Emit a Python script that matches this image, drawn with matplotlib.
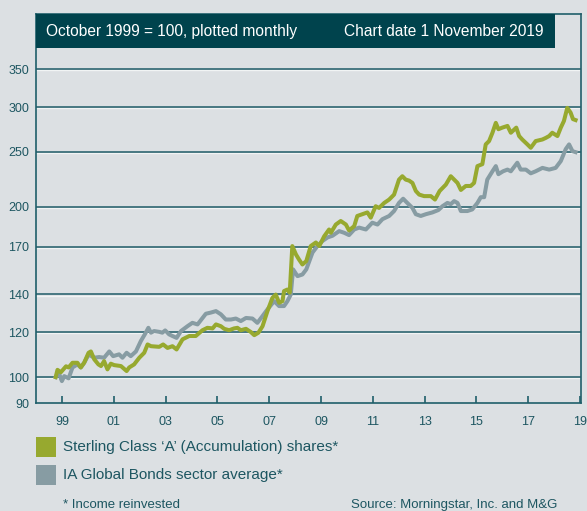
import numpy as np
import matplotlib.pyplot as plt
import matplotlib.transforms as mtransforms
from matplotlib.patches import Rectangle

plt.rcParams['font.family'] = ['Liberation Sans', 'DejaVu Sans']

# data (decimal year, index value)
g_year = [1999.75, 1999.82, 1999.95, 2000.15, 2000.25, 2000.40, 2000.59, 2000.72, 2000.85, 2001.02,
          2001.11, 2001.24, 2001.40, 2001.50, 2001.62, 2001.75, 2001.88, 2002.01, 2002.27, 2002.49,
          2002.59, 2002.78, 2002.98, 2003.17, 2003.30, 2003.43, 2003.75, 2003.90, 2004.07, 2004.26,
          2004.42, 2004.65, 2004.91, 2005.16, 2005.42, 2005.61, 2005.81, 2005.94, 2006.13, 2006.26,
          2006.45, 2006.64, 2006.77, 2006.90, 2007.10, 2007.29, 2007.42, 2007.58, 2007.74, 2007.93,
          2008.12, 2008.25, 2008.38, 2008.51, 2008.57, 2008.70, 2008.79, 2008.89, 2009.03, 2009.15,
          2009.28, 2009.43, 2009.60, 2009.80, 2009.93, 2010.12, 2010.31, 2010.38, 2010.57, 2010.76,
          2010.96, 2011.08, 2011.28, 2011.40, 2011.60, 2011.79, 2011.92, 2012.11, 2012.24, 2012.44,
          2012.63, 2012.82, 2013.01, 2013.14, 2013.27, 2013.40, 2013.53, 2013.66, 2013.79, 2013.98,
          2014.24, 2014.40, 2014.58, 2014.82, 2015.01, 2015.14, 2015.27, 2015.40, 2015.59, 2015.78,
          2015.91, 2016.04, 2016.23, 2016.36, 2016.49, 2016.62, 2016.75, 2016.85, 2017.00, 2017.20,
          2017.33, 2017.54, 2017.65, 2017.77, 2017.97, 2018.10, 2018.29, 2018.55, 2018.68, 2018.81,
          2018.93, 2019.13, 2019.26, 2019.38, 2019.51, 2019.64, 2019.73, 2019.83]
sterling_a = [100, 103, 102, 104.5, 104, 106, 106, 104, 106, 110.4,
              111, 107.5, 105.3, 104.6, 106.7, 103.2, 105.6, 105, 104.6, 102.5,
              104, 105.3, 108.2, 110.4, 114.2, 113.4, 113.1, 114.2, 112.6, 113.4,
              111.9, 116.6, 118.2, 118.2, 121, 122.2, 121.9, 123.9, 123, 121.7,
              121, 121.9, 122.2, 121, 121.7, 120.1, 118.6, 119.8, 123, 130.8,
              138, 139.9, 135.3, 136.2, 141.9, 142.8, 141, 170.4, 164.7, 161.3,
              158.1, 160.3, 170.4, 172.9, 170.4, 177.3, 182.3, 179.9, 186, 188.7,
              186, 181.6, 184.8, 192.6, 194, 195.4, 191.3, 200.4, 199, 203.1,
              205.9, 210.1, 223.3, 226.4, 223.3, 222.4, 220.3, 213.2, 210.1, 208.8,
              208.8, 205.9, 213.2, 218.8, 226.4, 223.3, 220.3, 214.1, 217.6, 217.6,
              220.3, 235.9, 237.8, 257.7, 261.2, 270.2, 281.3, 274.1, 275.9, 277.8,
              270.2, 275.9, 266.6, 262.9, 257.7, 254.2, 261.2, 262.9, 264.6, 266.6,
              270.2, 266.6, 275.9, 283.4, 299, 293.2, 285.6, 284.5]

s_year = [1999.75, 1999.86, 1999.99, 2000.08, 2000.25, 2000.40, 2000.59, 2000.72, 2000.85, 2001.02,
          2001.24, 2001.43, 2001.62, 2001.82, 2001.97, 2002.20, 2002.33, 2002.49, 2002.65, 2002.85,
          2003.04, 2003.23, 2003.33, 2003.43, 2003.55, 2003.75, 2003.87, 2003.98, 2004.13, 2004.26,
          2004.42, 2004.59, 2004.84, 2005.03, 2005.23, 2005.55, 2005.74, 2005.94, 2006.13, 2006.32,
          2006.52, 2006.71, 2006.90, 2007.10, 2007.35, 2007.54, 2007.74, 2007.93, 2008.19, 2008.38,
          2008.57, 2008.70, 2008.83, 2008.92, 2009.09, 2009.28, 2009.43, 2009.67, 2009.86, 2010.05,
          2010.25, 2010.44, 2010.70, 2010.89, 2011.08, 2011.28, 2011.47, 2011.73, 2011.98, 2012.18,
          2012.37, 2012.63, 2012.82, 2013.01, 2013.17, 2013.33, 2013.53, 2013.66, 2013.85, 2014.05,
          2014.30, 2014.53, 2014.69, 2014.88, 2015.01, 2015.14, 2015.27, 2015.40, 2015.65, 2015.84,
          2016.04, 2016.17, 2016.30, 2016.42, 2016.62, 2016.75, 2016.85, 2017.03, 2017.20, 2017.33,
          2017.58, 2017.71, 2017.91, 2018.10, 2018.29, 2018.55, 2018.81, 2019.06, 2019.26, 2019.45,
          2019.58, 2019.71, 2019.83]
sector_avg = [100, 102, 98.4, 100.4, 99.5, 104, 105.3, 104, 106, 109.6,
              108.2, 108.5, 108.2, 111, 108.9, 109.7, 108.2, 110.4, 108.9, 111,
              115.8, 119.8, 122.2, 119.8, 120.6, 120.2, 119.8, 120.9, 119, 118.2,
              117.3, 120.6, 123, 124.7, 123.9, 129.4, 130, 130.8, 129.1, 126.4,
              126.4, 126.9, 125.6, 127.2, 126.9, 124.7, 128.2, 131.7, 136.2, 133.5,
              133.5, 136.2, 139.9, 155, 150.8, 151.8, 155, 166, 170.4, 173.9,
              176.5, 177.7, 181.1, 179.9, 178.2, 182.3, 183.7, 182.3, 187.4, 186,
              190.1, 192.6, 196.5, 203.1, 206.6, 203.1, 199, 194, 192.6, 194,
              195.4, 197.3, 200.4, 203.1, 202.1, 204.6, 203.1, 196.5, 196.5, 197.8,
              203.1, 207.9, 207.9, 223.3, 231, 235.9, 228.3, 231, 232.6, 231,
              239.2, 232.6, 232.6, 229.1, 231, 234.2, 232.6, 234.2, 240.8, 252.8,
              257.7, 250.7, 249.7]

y_ticks = [90, 100, 120, 140, 170, 200, 250, 300, 350]
x_ticks = [2000, 2002, 2004, 2006, 2008, 2010, 2012, 2014, 2016, 2018, 2020]
x_labels = ['99', '01', '03', '05', '07', '09', '11', '13', '15', '17', '19']

bg = '#dce0e3'
teal = '#1d5661'
green = '#97a92f'
grey = '#879ca3'

fig = plt.figure(figsize=(5.87, 5.11), dpi=100, facecolor=bg)
ax = fig.add_axes([36/587, 1-403/511, 545/587, 389/511])
ax.set_facecolor(bg)
ax.set_yscale('log')
ax.set_ylim(90, 438)
ax.set_xlim(1998.99, 2020.04)

# gridlines with a faint highlight underneath
shift = mtransforms.ScaledTranslation(0, -1.2/100, fig.dpi_scale_trans)
for v in y_ticks[1:]:
    ax.plot([1998.99, 2020.04], [v, v], color='#f1f4f4', lw=1.0,
            transform=ax.transData + shift, zorder=1)
    ax.axhline(v, color='#2e6671', lw=1.2, zorder=1.5)

ax.plot(s_year, sector_avg, color=grey, lw=2.9, zorder=3, solid_joinstyle='round')
ax.plot(g_year, sterling_a, color=green, lw=2.9, zorder=4, solid_joinstyle='round')

for s in ax.spines.values():
    s.set_color('#1f5f6a')
    s.set_linewidth(1.2)

ax.set_yticks(y_ticks)
ax.set_yticklabels([str(v) for v in y_ticks])
ax.yaxis.set_minor_locator(plt.NullLocator())
ax.tick_params(axis='y', length=0, pad=5, labelsize=9, labelcolor=teal)
ax.set_xticks(x_ticks)
ax.set_xticklabels(x_labels)
ax.tick_params(axis='x', direction='in', length=5, width=1.2, color='#1f5f6a',
               pad=9, labelsize=9, labelcolor=teal)

# header bar
fig.patches.append(Rectangle((36/587, 1-48/511), 519/587, 34/511, transform=fig.transFigure,
                             facecolor='#00434d', edgecolor='none', zorder=5))
fig.text(46/587, 1-31/511, 'October 1999 = 100, plotted monthly', color='white',
         fontsize=11.2, va='center', ha='left', zorder=6)
fig.text(543/587, 1-31/511, 'Chart date 1 November 2019', color='white',
         fontsize=11.2, va='center', ha='right', zorder=6)

# legend
fig.patches.append(Rectangle((36/587, 1-457/511), 20/587, 20/511, transform=fig.transFigure,
                             facecolor=green, edgecolor='none'))
fig.patches.append(Rectangle((36/587, 1-485/511), 20/587, 20/511, transform=fig.transFigure,
                             facecolor=grey, edgecolor='none'))
fig.text(63/587, 1-447/511, 'Sterling Class \u2018A\u2019 (Accumulation) shares*', color=teal,
         fontsize=11, va='center')
fig.text(63/587, 1-475/511, 'IA Global Bonds sector average*', color=teal,
         fontsize=11, va='center')
fig.text(63/587, 1-505/511, '* Income reinvested', color=teal, fontsize=9.5, va='center')
fig.text(557/587, 1-505/511, 'Source: Morningstar, Inc. and M&G', color=teal, fontsize=9.5,
         va='center', ha='right')

fig.savefig('out.png', dpi=100, facecolor=bg)
